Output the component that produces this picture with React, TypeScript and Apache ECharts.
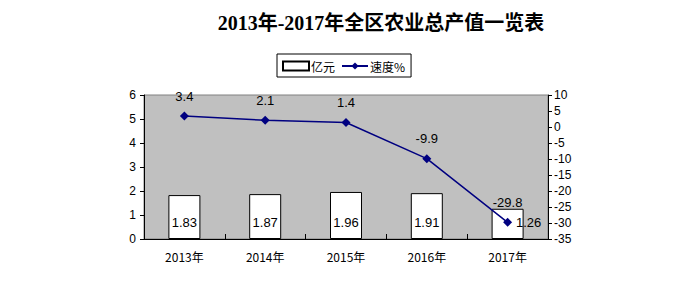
import React, { useEffect, useRef } from "react";
import * as echarts from "echarts";

const categories = ["2013年", "2014年", "2015年", "2016年", "2017年"];
const valueYi = [1.83, 1.87, 1.96, 1.91, 1.26];
const speed = [3.4, 2.1, 1.4, -9.9, -29.8];

export default function App() {
  const ref = useRef<HTMLDivElement>(null);
  useEffect(() => {
    const chart = echarts.init(ref.current!, null, { renderer: "svg" });
    const labelFont = "'Liberation Sans', Arial, sans-serif";
    chart.setOption({
      animation: false,
      backgroundColor: "#ffffff",
      title: {
        text: "2013年-2017年全区农业总产值一览表",
        left: 376,
        textAlign: "center",
        top: 8,
        textStyle: {
          fontFamily: "'Liberation Serif', 'Noto Sans CJK SC', serif",
          fontSize: 20,
          fontWeight: "bold",
          color: "#000",
        },
      },
      legend: {
        left: 277,
        top: 54,
        width: 138,
        height: 22,
        padding: [6, 6, 5, 5],
        borderColor: "#000",
        borderWidth: 1,
        itemGap: 6,
        itemWidth: 26,
        itemHeight: 9,
        textStyle: { fontFamily: "'Noto Sans CJK SC', sans-serif", fontSize: 12, color: "#000", padding: [0, 0, 0, -3] },
        data: [
          { name: "亿元", icon: "rect" },
          { name: "速度%" },
        ],
      },
      grid: {
        left: 144,
        right: 136,
        top: 95,
        bottom: 43,
        show: true,
        backgroundColor: "#c0c0c0",
        borderColor: "#808080",
        borderWidth: 1,
      },
      xAxis: {
        type: "category",
        data: categories,
        boundaryGap: true,
        axisLine: { lineStyle: { color: "#000", width: 1 } },
        axisTick: { show: true, inside: true, length: 5, lineStyle: { color: "#000" } },
        axisLabel: {
          margin: 11,
          fontSize: 12,
          color: "#000",
          fontFamily: "'Noto Sans CJK SC', sans-serif",
        },
      },
      yAxis: [
        {
          type: "value",
          min: 0,
          max: 6,
          interval: 1,
          position: "left",
          splitLine: { show: false },
          axisLine: { show: true, lineStyle: { color: "#000" } },
          axisTick: { show: true, length: 4, lineStyle: { color: "#000" } },
          axisLabel: { fontSize: 12, color: "#000", fontFamily: labelFont, margin: 8 },
        },
        {
          type: "value",
          min: -35,
          max: 10,
          interval: 5,
          position: "right",
          splitLine: { show: false },
          axisLine: { show: true, lineStyle: { color: "#000" } },
          axisTick: { show: true, length: 4, lineStyle: { color: "#000" } },
          axisLabel: { fontSize: 12, color: "#000", fontFamily: labelFont, margin: 6 },
        },
      ],
      series: [
        {
          name: "亿元",
          type: "bar",
          yAxisIndex: 0,
          barWidth: 32,
          data: valueYi.map((v, i) =>
            i === 4 ? { value: v, label: { offset: [21, 0] } } : v
          ),
          itemStyle: { color: "#ffffff", borderColor: "#000", borderWidth: 1 },
          label: {
            show: true,
            position: "insideBottom",
            distance: 10,
            fontSize: 13,
            color: "#000",
            fontFamily: labelFont,
          },
        },
        {
          name: "速度%",
          type: "line",
          yAxisIndex: 1,
          data: speed,
          symbol: "diamond",
          symbolSize: 9,
          lineStyle: { color: "#000080", width: 1.5 },
          itemStyle: { color: "#000080" },
          label: {
            show: true,
            position: "top",
            distance: 9,
            fontSize: 13,
            color: "#000",
            fontFamily: labelFont,
          },
        },
      ],
    });
    return () => chart.dispose();
  }, []);
  return (
    <div
      ref={ref}
      style={{ position: "fixed", left: 0, top: 0, width: 684, height: 282 }}
    />
  );
}
